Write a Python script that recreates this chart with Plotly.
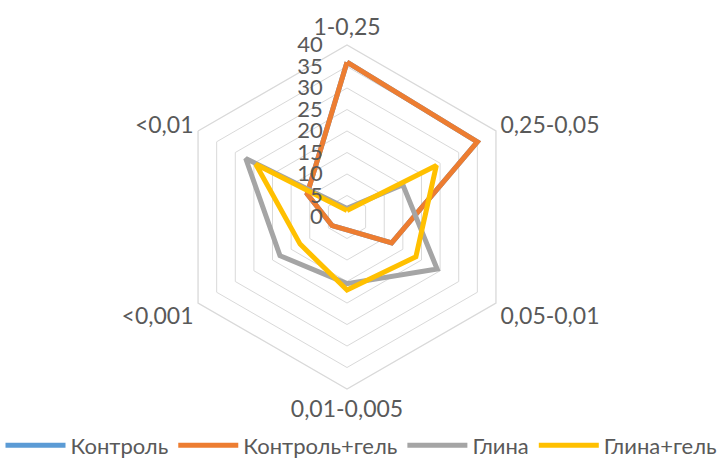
import plotly.graph_objects as go

categories = ["1-0,25", "0,25-0,05", "0,05-0,01", "0,01-0,005", "<0,001", "<0,01"]

series_names = ["Контроль", "Контроль+гель", "Глина", "Глина+гель"]
kontrol = [36, 35, 12, 3, 4, 10.7]
kontrol_gel = [36, 35, 12, 3, 4, 10.7]
glina = [2, 15, 24.2, 15.5, 18, 27.2]
glina_gel = [1.5, 24, 18.5, 17, 12.6, 24.5]

colors = ["#5b9bd5", "#ed7d31", "#a5a5a5", "#ffc000"]
values = [kontrol, kontrol_gel, glina, glina_gel]

FONT = "Lato"
TEXT = "#595959"
GRID = "#d9d9d9"

fig = go.Figure()
for name, vals, col in zip(series_names, values, colors):
    fig.add_trace(go.Scatterpolar(
        r=vals + vals[:1],
        theta=categories + categories[:1],
        mode="lines",
        name=name,
        line=dict(color=col, width=5),
    ))

W, H = 723, 461
cx, cy, R = 347, 217, 172
fig.update_layout(
    width=W, height=H,
    margin=dict(l=0, r=0, t=0, b=0, autoexpand=False),
    paper_bgcolor="white",
    plot_bgcolor="white",
    font=dict(family=FONT, size=22, color=TEXT),
    polar=dict(
        domain=dict(x=[(cx - R) / W, (cx + R) / W],
                    y=[(H - cy - R) / H, (H - cy + R) / H]),
        bgcolor="white",
        gridshape="linear",
        radialaxis=dict(
            range=[0, 40], dtick=5, angle=90, tickangle=90,
            side="counterclockwise",
            showline=False, ticks="outside", ticklen=16,
            tickcolor="rgba(0,0,0,0)",
            gridcolor=GRID, gridwidth=1.3,
            tickfont=dict(family=FONT, size=22, color=TEXT),
        ),
        angularaxis=dict(
            rotation=90, direction="clockwise",
            showgrid=False, ticks="",
            showline=True, linecolor=GRID, linewidth=1.3,
            tickfont=dict(family=FONT, size=23, color=TEXT),
        ),
    ),
    legend=dict(
        orientation="h", x=0.5, xanchor="center", y=-0.012, yanchor="bottom",
        itemwidth=60,
        font=dict(family=FONT, size=22, color=TEXT),
    ),
)

fig.write_html("out.html")
